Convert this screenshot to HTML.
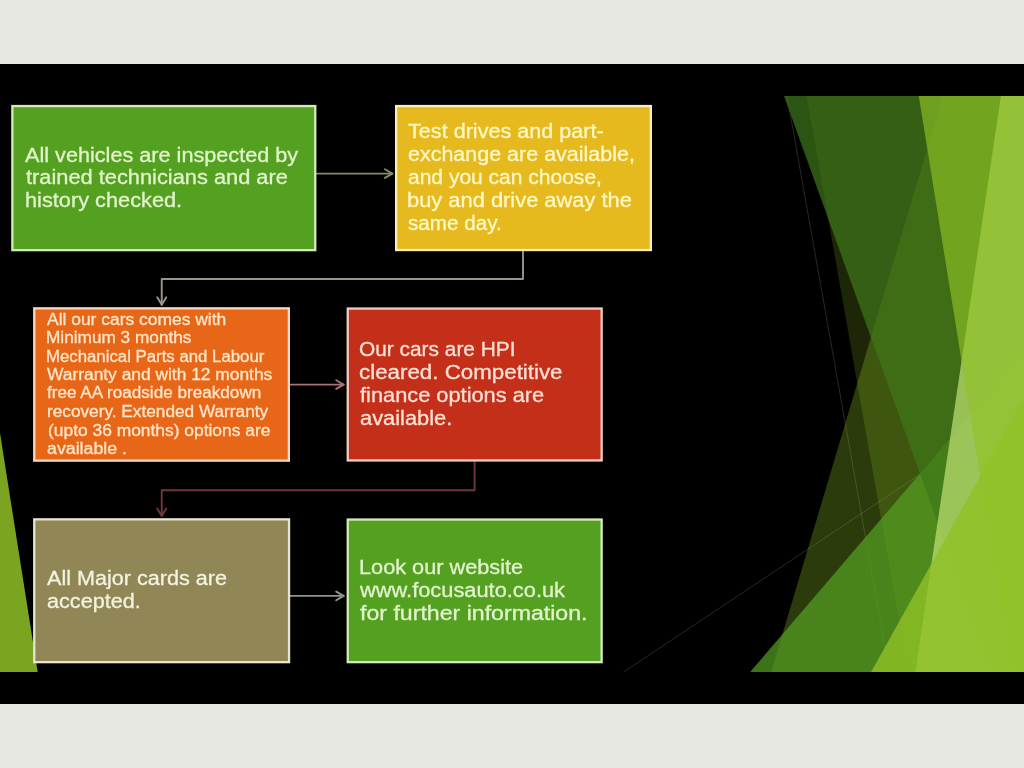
<!DOCTYPE html>
<html lang="en"><head><meta charset="utf-8"><title>Focus Auto</title>
<style>
html,body{margin:0;padding:0;}
body{width:1024px;height:768px;overflow:hidden;background:#e7e8e1;position:relative;font-family:"Liberation Sans","DejaVu Sans",sans-serif;}
.stage{position:absolute;left:0;top:64px;width:1024px;height:640px;background:#000;overflow:hidden;}
.slide{position:absolute;left:0;top:32px;width:1024px;height:576px;overflow:hidden;}
svg.deco{position:absolute;left:0;top:-96px;width:1024px;height:768px;filter:blur(0.55px);}
.txt{position:absolute;left:0;top:-96px;width:1024px;height:768px;filter:blur(0.45px);}
.t{position:absolute;white-space:nowrap;color:#fff;transform-origin:0 0;-webkit-text-stroke:0.3px currentColor;}
</style></head><body>
<div class="stage"><div class="slide">
<svg class="deco" viewBox="0 0 1024 768">

<line x1="787.07" y1="96" x2="889.47" y2="672" stroke="#b8b8a8" stroke-opacity="0.22" stroke-width="1"/>
<line x1="623.64" y1="672" x2="1024" y2="405.2" stroke="#b8b8a8" stroke-opacity="0.22" stroke-width="1"/>
<polygon points="942.91,96 1024,96 1024,672 771.15,672" fill="#90C226" fill-opacity="0.3"/>
<polygon points="806.59,96 1024,96 1024,672 908.13,672" fill="#90C226" fill-opacity="0.2"/>
<polygon points="1024,352.0 1024,672 750.22,672" fill="#54A021" fill-opacity="0.72"/>
<polygon points="784.0,96 1024,96 1024,672 991.45,672" fill="#3F7819" fill-opacity="0.7"/>
<polygon points="1000.88,96 1024,96 1024,672 915.38,672" fill="#C0E474" fill-opacity="0.7"/>
<polygon points="918.76,96 1024,96 1024,672 1011.82,672" fill="#90C226" fill-opacity="0.65"/>
<polygon points="1024,397.51 1024,672 871.11,672" fill="#90C226" fill-opacity="0.8"/>
<polygon points="0,433.07 0,672 37.69,672" fill="#90C226" fill-opacity="0.85"/>
<g stroke="#848b6a" stroke-width="1.9" fill="none" stroke-linecap="round" stroke-linejoin="round"><path d="M316.5 173.6 H392.4"/><path d="M384.9 169.29999999999998 L392.4 173.6 L384.9 177.9"/></g>
<g stroke="#9a958b" stroke-width="1.9" fill="none" stroke-linecap="round" stroke-linejoin="round"><path d="M523 251 V279.0 H161.75 V304.8"/><path d="M157.25 297.3 L161.75 304.8 L166.25 297.3"/></g>
<g stroke="#a87276" stroke-width="1.9" fill="none" stroke-linecap="round" stroke-linejoin="round"><path d="M290 384.6 H343.7"/><path d="M336.2 380.3 L343.7 384.6 L336.2 388.90000000000003"/></g>
<g stroke="#6e383d" stroke-width="1.9" fill="none" stroke-linecap="round" stroke-linejoin="round"><path d="M474.6 461.5 V490.2 H161.75 V516"/><path d="M157.25 508.5 L161.75 516 L166.25 508.5"/></g>
<g stroke="#94948e" stroke-width="1.9" fill="none" stroke-linecap="round" stroke-linejoin="round"><path d="M290 595.9 H343.7"/><path d="M336.2 591.6 L343.7 595.9 L336.2 600.1999999999999"/></g>
<rect x="12.35" y="106.05" width="302.90" height="144.10" fill="#54A021" stroke="#d6eab8" stroke-width="2.3"/>
<rect x="396.15" y="106.05" width="254.70" height="144.00" fill="#E6B91E" stroke="#faefbc" stroke-width="2.3"/>
<rect x="34.25" y="308.35" width="254.60" height="152.30" fill="#E76618" stroke="#f9d8be" stroke-width="2.3"/>
<rect x="347.75" y="308.55" width="253.90" height="151.90" fill="#C42F1A" stroke="#f2ccc4" stroke-width="2.3"/>
<rect x="34.25" y="519.35" width="254.80" height="142.80" fill="#918655" stroke="#e8e4d0" stroke-width="2.3"/>
<rect x="347.75" y="519.55" width="253.90" height="142.60" fill="#54A021" stroke="#d6eab8" stroke-width="2.3"/>
</svg>
<div class="txt">
<div class="t" id="b1_0" style="left:24.50px;top:143.57px;font-size:20px;line-height:23.0px;color:#e2f4cc;transform:scaleX(1.0823);">All vehicles are inspected by</div>
<div class="t" id="b1_1" style="left:25.63px;top:166.27px;font-size:20px;line-height:23.0px;color:#e2f4cc;transform:scaleX(1.0904);">trained technicians and are</div>
<div class="t" id="b1_2" style="left:24.77px;top:188.87px;font-size:20px;line-height:23.0px;color:#e2f4cc;transform:scaleX(1.0874);">history checked.</div>
<div class="t" id="b2_0" style="left:408.46px;top:120.07px;font-size:20px;line-height:23.0px;color:#fff8c4;transform:scaleX(1.0804);">Test drives and part-</div>
<div class="t" id="b2_1" style="left:407.99px;top:142.97px;font-size:20px;line-height:23.0px;color:#fff8c4;transform:scaleX(1.0740);">exchange are available,</div>
<div class="t" id="b2_2" style="left:408.21px;top:165.87px;font-size:20px;line-height:23.0px;color:#fff8c4;transform:scaleX(1.0505);">and you can choose,</div>
<div class="t" id="b2_3" style="left:406.83px;top:188.87px;font-size:20px;line-height:23.0px;color:#fff8c4;transform:scaleX(1.0934);">buy and drive away the</div>
<div class="t" id="b2_4" style="left:407.68px;top:212.07px;font-size:20px;line-height:23.0px;color:#fff8c4;transform:scaleX(1.0328);">same day.</div>
<div class="t" id="b3_0" style="left:47.00px;top:310.56px;font-size:16px;line-height:18.4px;color:#ffe6c8;transform:scaleX(1.0899);">All our cars comes with</div>
<div class="t" id="b3_1" style="left:45.65px;top:329.36px;font-size:16px;line-height:18.4px;color:#ffe6c8;transform:scaleX(1.0762);">Minimum 3 months</div>
<div class="t" id="b3_2" style="left:45.69px;top:347.76px;font-size:16px;line-height:18.4px;color:#ffe6c8;transform:scaleX(1.0489);">Mechanical Parts and Labour</div>
<div class="t" id="b3_3" style="left:47.00px;top:366.06px;font-size:16px;line-height:18.4px;color:#ffe6c8;transform:scaleX(1.0855);">Warranty and with 12 months</div>
<div class="t" id="b3_4" style="left:47.23px;top:384.46px;font-size:16px;line-height:18.4px;color:#ffe6c8;transform:scaleX(1.0707);">free AA roadside breakdown</div>
<div class="t" id="b3_5" style="left:46.92px;top:403.26px;font-size:16px;line-height:18.4px;color:#ffe6c8;transform:scaleX(1.0766);">recovery. Extended Warranty</div>
<div class="t" id="b3_6" style="left:47.71px;top:422.26px;font-size:16px;line-height:18.4px;color:#ffe6c8;transform:scaleX(1.0871);">(upto 36 months) options are</div>
<div class="t" id="b3_7" style="left:46.57px;top:440.46px;font-size:16px;line-height:18.4px;color:#ffe6c8;transform:scaleX(1.1111);">available .</div>
<div class="t" id="b4_0" style="left:358.96px;top:337.87px;font-size:20px;line-height:23.0px;color:#fbe0d4;transform:scaleX(1.0431);">Our cars are HPI</div>
<div class="t" id="b4_1" style="left:359.16px;top:361.07px;font-size:20px;line-height:23.0px;color:#fbe0d4;transform:scaleX(1.1165);">cleared. Competitive</div>
<div class="t" id="b4_2" style="left:359.73px;top:384.07px;font-size:20px;line-height:23.0px;color:#fbe0d4;transform:scaleX(1.0897);">finance options are</div>
<div class="t" id="b4_3" style="left:360.18px;top:406.97px;font-size:20px;line-height:23.0px;color:#fbe0d4;transform:scaleX(1.0927);">available.</div>
<div class="t" id="b5_0" style="left:47.00px;top:566.77px;font-size:20px;line-height:23.0px;color:#f4f2e0;transform:scaleX(1.0799);">All Major cards are</div>
<div class="t" id="b5_1" style="left:46.69px;top:589.57px;font-size:20px;line-height:23.0px;color:#f4f2e0;transform:scaleX(1.0813);">accepted.</div>
<div class="t" id="b6_0" style="left:358.60px;top:555.87px;font-size:20px;line-height:23.0px;color:#e2f4cc;transform:scaleX(1.0855);">Look our website</div>
<div class="t" id="b6_1" style="left:360.00px;top:578.77px;font-size:20px;line-height:23.0px;color:#e2f4cc;transform:scaleX(1.0913);">www.focusauto.co.uk</div>
<div class="t" id="b6_2" style="left:359.71px;top:601.87px;font-size:20px;line-height:23.0px;color:#e2f4cc;transform:scaleX(1.1564);">for further information.</div>
</div></div></div></body></html>
